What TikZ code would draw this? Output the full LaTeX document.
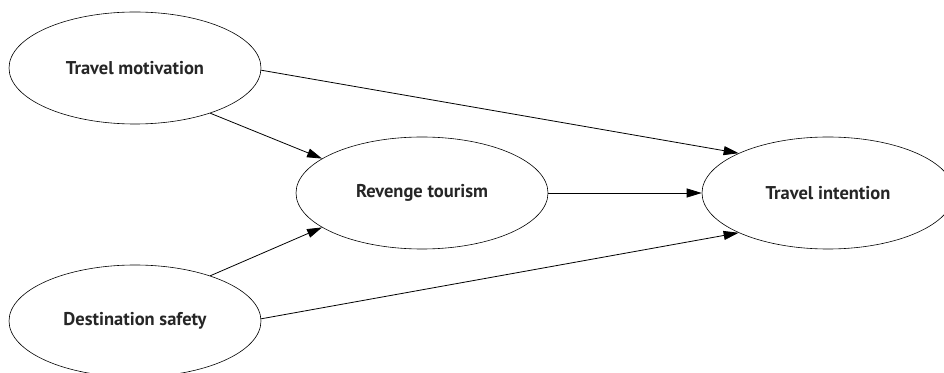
\documentclass[tikz,border=0pt]{standalone}
\usepackage{fontspec}
\setmainfont{PT Sans}
\usetikzlibrary{shapes.geometric,arrows.meta}
\begin{document}
\begin{tikzpicture}[
			x=1pt,y=1pt,
			construct/.style={ellipse,draw,line width=0.6pt,minimum width=252pt,minimum height=112pt,inner sep=0pt,text=black!85,font=\fontsize{18.5}{22}\selectfont\bfseries},
			path/.style={line width=0.8pt,-{Triangle[length=15pt,width=9pt]}}
		]
		\useasboundingbox (0,0) rectangle (944,372);
		\node[construct] (motivation) at (135,304) {Travel motivation};
		\node[construct] (safety) at (135,51) {Destination safety};
		\node[construct] (revenge) at (422,179) {Revenge tourism};
		\node[construct] (intention) at (828,179) {Travel intention};
		\draw[path] (motivation.-31) -- (revenge.161);
		\draw[path] (safety.31) -- (revenge.199);
		\draw[path] (motivation.-1) -- (intention.156);
		\draw[path] (safety.1) -- (intention.204);
		\draw[path] (revenge) -- (intention);
	\end{tikzpicture}
\end{document}
